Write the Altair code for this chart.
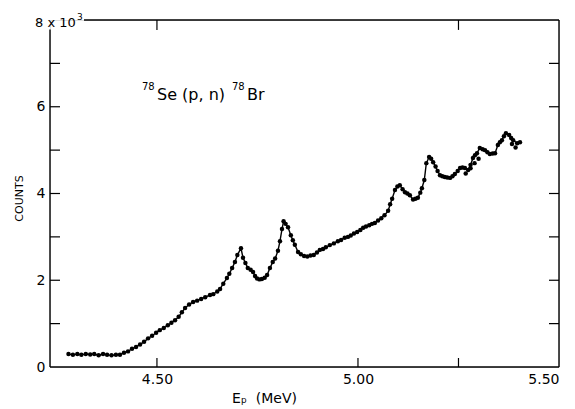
import altair as alt
import pandas as pd

# Proton energy (MeV) and counts (x 10^3)
energy = [4.280, 4.291, 4.302, 4.312, 4.323, 4.334, 4.344, 4.355, 4.366, 4.376,
          4.387, 4.398, 4.408, 4.418, 4.428, 4.438, 4.448, 4.458, 4.468, 4.478,
          4.488, 4.498, 4.507, 4.517, 4.527, 4.536, 4.545, 4.554, 4.562, 4.570,
          4.580, 4.590, 4.600, 4.610, 4.620, 4.632, 4.640, 4.650, 4.657, 4.665,
          4.674, 4.680, 4.687, 4.694, 4.700, 4.709, 4.714, 4.720, 4.726, 4.733,
          4.739, 4.744, 4.749, 4.755, 4.761, 4.768, 4.774, 4.781, 4.788, 4.794,
          4.801, 4.806, 4.811, 4.815, 4.820, 4.826, 4.833, 4.838, 4.843, 4.851,
          4.858, 4.866, 4.874, 4.882, 4.890, 4.898, 4.905, 4.913, 4.920, 4.930,
          4.940, 4.950, 4.958, 4.967, 4.975, 4.982, 4.990, 4.998, 5.006, 5.013,
          5.020, 5.028, 5.035, 5.042, 5.050, 5.058, 5.066, 5.075, 5.080, 5.085,
          5.092, 5.098, 5.104, 5.111, 5.117, 5.123, 5.129, 5.137, 5.143, 5.149,
          5.155, 5.159, 5.165, 5.170, 5.177, 5.182, 5.187, 5.193, 5.198, 5.204,
          5.210, 5.216, 5.222, 5.229, 5.235, 5.241, 5.248, 5.254, 5.260, 5.266,
          5.274, 5.280, 5.286, 5.291, 5.296, 5.303, 5.310, 5.316, 5.322, 5.328,
          5.335, 5.341, 5.348, 5.353, 5.358, 5.363, 5.368, 5.376, 5.381, 5.386,
          5.396, 5.403]
counts = [0.30, 0.28, 0.30, 0.28, 0.30, 0.29, 0.30, 0.27, 0.30, 0.28,
          0.27, 0.28, 0.28, 0.33, 0.36, 0.42, 0.46, 0.52, 0.58, 0.66,
          0.72, 0.79, 0.85, 0.90, 0.96, 1.02, 1.08, 1.16, 1.26, 1.36,
          1.44, 1.50, 1.53, 1.57, 1.61, 1.66, 1.68, 1.74, 1.80, 1.92,
          2.05, 2.15, 2.28, 2.42, 2.58, 2.74, 2.52, 2.40, 2.28, 2.24,
          2.19, 2.10, 2.04, 2.02, 2.03, 2.06, 2.12, 2.28, 2.42, 2.50,
          2.68, 2.90, 3.18, 3.36, 3.30, 3.22, 3.04, 2.92, 2.82, 2.65,
          2.60, 2.56, 2.55, 2.57, 2.58, 2.64, 2.70, 2.72, 2.76, 2.81,
          2.85, 2.90, 2.93, 2.98, 3.00, 3.03, 3.08, 3.11, 3.16, 3.21,
          3.24, 3.27, 3.30, 3.32, 3.38, 3.43, 3.50, 3.60, 3.75, 3.88,
          4.08, 4.16, 4.19, 4.10, 4.03, 4.00, 3.96, 3.86, 3.88, 3.90,
          4.02, 4.12, 4.31, 4.70, 4.84, 4.80, 4.72, 4.62, 4.52, 4.42,
          4.40, 4.38, 4.37, 4.36, 4.40, 4.45, 4.52, 4.59, 4.60, 4.59,
          4.54, 4.66, 4.82, 4.88, 4.93, 5.05, 5.02, 5.00, 4.95, 4.91,
          4.92, 4.93, 5.12, 5.18, 5.23, 5.32, 5.39, 5.35, 5.28, 5.23,
          5.16, 5.18]

# Points off the drawn curve
extra_energy = [5.268, 5.280, 5.290, 5.300, 5.383, 5.392]
extra_counts = [4.46, 4.58, 4.70, 4.80, 5.14, 5.06]

x_labels = [4.50, 5.00, 5.50]
y_labels = [0, 2, 4, 6]
bottom_ticks = [4.50, 5.00, 5.25]
top_ticks = [4.50, 5.25]
side_ticks = [1, 2, 3, 4, 5, 6, 7]

X_MIN, X_MAX = 4.234, 5.50
Y_MIN, Y_MAX = 0.0, 8.0
W, H = 509, 347
TX = 10 * (X_MAX - X_MIN) / W   # tick length in data units (x)
TY = 9 * (Y_MAX - Y_MIN) / H    # tick length in data units (y)

FONT = "DejaVu Sans"

df = pd.DataFrame({"E": energy, "C": counts})
dfx = pd.DataFrame({"E": extra_energy, "C": extra_counts})

xs = alt.Scale(domain=[X_MIN, X_MAX], nice=False, zero=False)
ys = alt.Scale(domain=[Y_MIN, Y_MAX], nice=False, zero=False)

xaxis = alt.Axis(values=x_labels, format=".2f", ticks=False, domain=False, grid=False,
                 labelFont=FONT, labelFontSize=14, labelPadding=5, labelColor="black",
                 title="Eₚ \u00a0(MeV)", titleFont=FONT, titleFontSize=14, titleFontWeight="normal",
                 titleX=214, titleY=31, titleBaseline="middle", titleColor="black")
yaxis = alt.Axis(values=y_labels, ticks=False, domain=False, grid=False,
                 labelFont=FONT, labelFontSize=14, labelPadding=5, labelColor="black",
                 title="COUNTS", titleFont=FONT, titleFontSize=11, titleFontWeight="normal",
                 titleAngle=270, titleX=-31, titleY=178, titleAlign="center",
                 titleBaseline="middle", titleColor="black")

line = alt.Chart(df).mark_line(color="black", strokeWidth=1.4).encode(
    x=alt.X("E:Q", scale=xs, axis=xaxis),
    y=alt.Y("C:Q", scale=ys, axis=yaxis),
)
pts = alt.Chart(df).mark_circle(color="black", size=20, opacity=1).encode(
    x=alt.X("E:Q", scale=xs), y=alt.Y("C:Q", scale=ys))
pts2 = alt.Chart(dfx).mark_circle(color="black", size=20, opacity=1).encode(
    x=alt.X("E:Q", scale=xs), y=alt.Y("C:Q", scale=ys))

# frame
frame_df = pd.DataFrame({
    "x": [X_MIN, X_MIN, 4.3186, X_MAX],
    "x2": [X_MIN, X_MAX, X_MAX, X_MAX],
    "y": [0.0, 0.0, Y_MAX, 0.0],
    "y2": [7.78, 0.0, Y_MAX, Y_MAX],
})
frame = alt.Chart(frame_df).mark_rule(color="black", strokeWidth=1.4).encode(
    x=alt.X("x:Q", scale=xs), x2="x2:Q", y=alt.Y("y:Q", scale=ys), y2="y2:Q")

# inward ticks
tick_rows = []
for v in bottom_ticks:
    tick_rows.append({"x": v, "x2": v, "y": Y_MIN, "y2": Y_MIN + TY})
for v in top_ticks:
    tick_rows.append({"x": v, "x2": v, "y": Y_MAX, "y2": Y_MAX - TY * 1.1})
for v in side_ticks:
    tick_rows.append({"x": X_MIN, "x2": X_MIN + TX, "y": v, "y2": v})
    tick_rows.append({"x": X_MAX, "x2": X_MAX - TX, "y": v, "y2": v})
ticks = alt.Chart(pd.DataFrame(tick_rows)).mark_rule(color="black", strokeWidth=1.2).encode(
    x=alt.X("x:Q", scale=xs), x2="x2:Q", y=alt.Y("y:Q", scale=ys), y2="y2:Q")

# text annotations (positions in data units), pieces: main text and superscripts
ann_text = ["8 x 10", "3", "78", "Se (p, n)", "78", "Br"]
ann_x = [4.1967, 4.3012, 4.4628, 4.5001, 4.6867, 4.7240]
ann_y = [7.84, 8.01, 6.39, 6.16, 6.39, 6.16]
ann_size = [13, 9, 10, 16, 10, 16]
ann_df = pd.DataFrame({"x": ann_x, "y": ann_y, "t": ann_text, "s": ann_size})
ann = alt.Chart(ann_df).mark_text(
    align="left", baseline="alphabetic", font=FONT, color="black").encode(
    x=alt.X("x:Q", scale=xs), y=alt.Y("y:Q", scale=ys), text="t:N",
    size=alt.Size("s:Q", scale=None, legend=None))

chart = alt.layer(line, pts, pts2, frame, ticks, ann).properties(
    width=W, height=H,
    autosize=alt.AutoSizeParams(type="none"),
    padding={"left": 42, "top": 12, "right": 6, "bottom": 42},
).configure_view(stroke=None).configure(background="white")

chart.save("out.html", embed_options={"renderer": "svg", "actions": False})
